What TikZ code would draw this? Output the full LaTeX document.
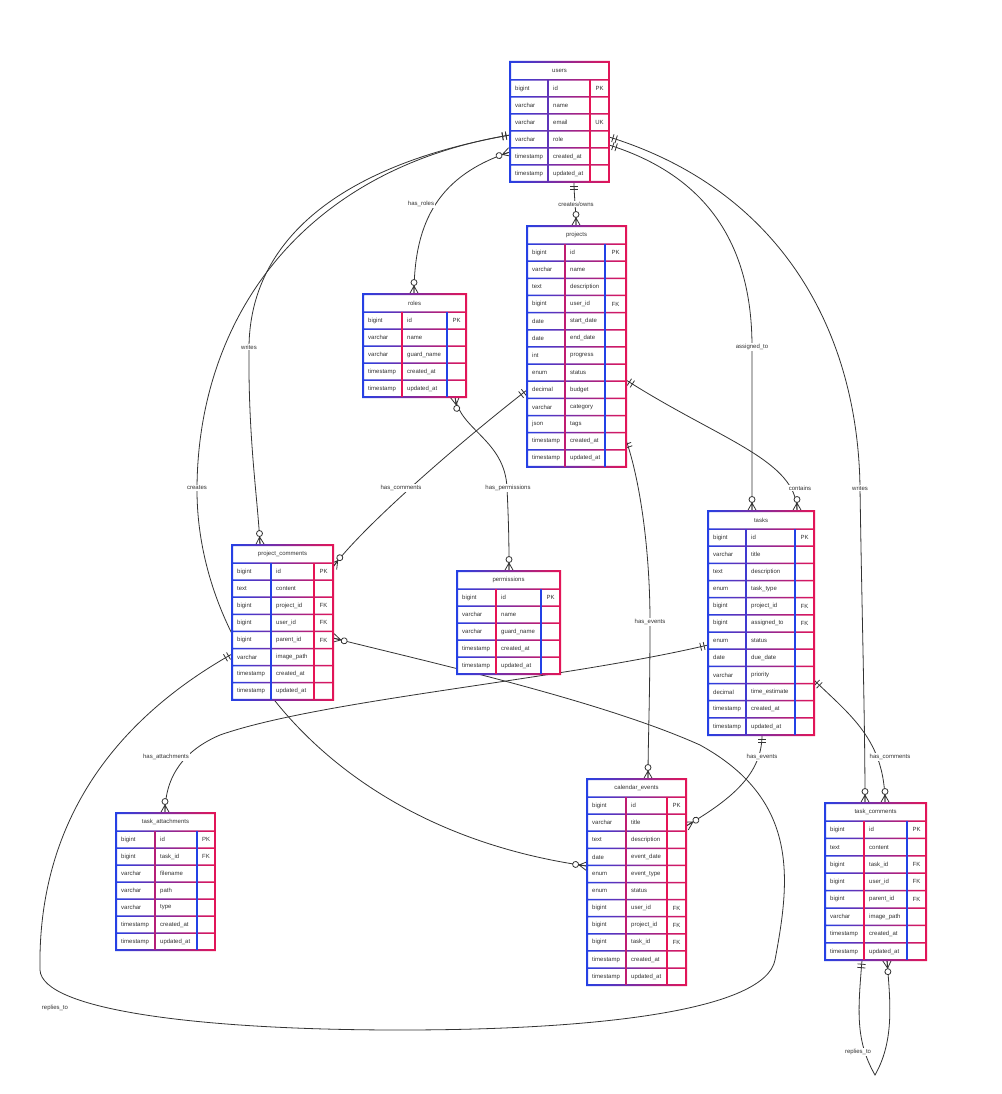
\documentclass[tikz,border=0pt]{standalone}
\usepackage{fontspec}
\setmainfont{Liberation Sans}
\usetikzlibrary{decorations.markings}
\pgfdeclarelayer{bg}
\pgfsetlayers{bg,main}
\definecolor{erBlue}{RGB}{35,65,230}
\definecolor{erRed}{RGB}{230,20,85}
\definecolor{lnC}{RGB}{51,51,51}
\tikzset{
  tblbox/.style={fill=white,draw=none,inner sep=0pt,outer sep=0pt},
  cell/.style={font=\fontsize{6}{7}\selectfont,text=black!80,inner sep=0pt},
  lbl/.style={font=\fontsize{6}{7}\selectfont,text=black!80,fill=white,inner sep=1pt},
  conn/.style={draw=lnC,line width=0.8pt},
  mk/.style={draw=lnC,line width=0.8pt},
  sOne/.style={postaction={decorate,decoration={markings,mark=at position 0 with {\draw[mk] (4pt,-4pt)--(4pt,4pt) (7.5pt,-4pt)--(7.5pt,4pt);}}}},
  eOne/.style={postaction={decorate,decoration={markings,mark=at position -0.01pt with {\draw[mk] (-4pt,-4pt)--(-4pt,4pt) (-7.5pt,-4pt)--(-7.5pt,4pt);}}}},
  sMany/.style={postaction={decorate,decoration={markings,mark=at position 0 with {\draw[mk] (0pt,4.5pt)--(8pt,0pt)--(0pt,-4.5pt) (0pt,0pt)--(8pt,0pt); \draw[mk,fill=white] (11.5pt,0pt) circle (3pt);}}}},
  eMany/.style={postaction={decorate,decoration={markings,mark=at position -0.01pt with {\draw[mk] (0pt,4.5pt)--(-8pt,0pt)--(0pt,-4.5pt) (0pt,0pt)--(-8pt,0pt); \draw[mk,fill=white] (-11.5pt,0pt) circle (3pt);}}}},
}
% #1 name #2 x0 #3 y0 #4 c1 #5 c2 #6 c3 #7 row height #8 title #9 rows
\newcommand\erT[9]{%
  \foreach \ta/\na/\ka [count=\ii] in {#9} {\xdef\erN{\ii}}%
  \pgfmathsetmacro\erW{#4+#5+#6}%
  \pgfmathsetmacro\erH{18+\erN*#7}%
  \node[tblbox,minimum width=\erW pt,minimum height=\erH pt,anchor=north west] (#1) at (#2,#3) {};
  \begin{scope}
    \clip (#2-1,#3-1) rectangle (#2+\erW+1,#3+1)
          (#2-1,#3+\erH-1) rectangle (#2+\erW+1,#3+\erH+1)
          (#2-1,#3-1) rectangle (#2+1,#3+\erH+1)
          (#2+\erW-1,#3-1) rectangle (#2+\erW+1,#3+\erH+1)
          foreach \jj in {0,...,\erN} { (#2,#3+18+\jj*#7-0.75) rectangle (#2+\erW,#3+18+\jj*#7+0.75) };
    \shade[left color=erBlue,right color=erRed] (#2-2,#3-2) rectangle (#2+\erW+2,#3+\erH+2);
  \end{scope}
  \draw[line width=1.4pt,draw=\erDa] (#2+#4,#3+18) -- (#2+#4,#3+\erH);
  \draw[line width=1.4pt,draw=\erDb] (#2+#4+#5,#3+18) -- (#2+#4+#5,#3+\erH);
  \node[cell] (#1-title) at (#2+\erW/2,#3+9) {#8};
  \foreach \ta/\na/\ka [count=\ii] in {#9} {
    \node[cell,anchor=west] (#1-t\ii) at (#2+5,#3+18+\ii*#7-0.5*#7) {\ta};
    \node[cell,anchor=west] (#1-n\ii) at (#2+#4+5,#3+18+\ii*#7-0.5*#7) {\na};
    \node[cell] (#1-k\ii) at (#2+#4+#5+#6/2,#3+18+\ii*#7-0.5*#7) {\ka};
  }%
}
\begin{document}
\begin{tikzpicture}[x=1pt,y=-1pt]
\useasboundingbox (0,0) rectangle (1001,1094);

% ---------- tables ----------
\def\erDa{erBlue!70!erRed}\def\erDb{erRed}
\erT{users}{510}{62}{38}{42}{19}{17}{users}{bigint/id/PK, varchar/name/{}, varchar/email/UK, varchar/role/{}, timestamp/created\_at/{}, timestamp/updated\_at/{}}

\def\erDa{erRed!80!erBlue}\def\erDb{erBlue}
\erT{projects}{527}{226}{38}{40}{21}{17.15}{projects}{bigint/id/PK, varchar/name/{}, text/description/{}, bigint/user\_id/FK, date/start\_date/{}, date/end\_date/{}, int/progress/{}, enum/status/{}, decimal/budget/{}, varchar/category/{}, json/tags/{}, timestamp/created\_at/{}, timestamp/updated\_at/{}}

\def\erDa{erRed}\def\erDb{erBlue}
\erT{roles}{363}{294}{39}{45}{19}{17}{roles}{bigint/id/PK, varchar/name/{}, varchar/guard\_name/{}, timestamp/created\_at/{}, timestamp/updated\_at/{}}

\def\erDa{erBlue}\def\erDb{erRed}
\erT{pc}{232}{545}{39}{43}{19}{17.1}{project\_comments}{bigint/id/PK, text/content/{}, bigint/project\_id/FK, bigint/user\_id/FK, bigint/parent\_id/FK, varchar/image\_path/{}, timestamp/created\_at/{}, timestamp/updated\_at/{}}

\def\erDa{erRed}\def\erDb{erBlue}
\erT{perm}{457}{571}{39}{45}{19}{17}{permissions}{bigint/id/PK, varchar/name/{}, varchar/guard\_name/{}, timestamp/created\_at/{}, timestamp/updated\_at/{}}

\def\erDa{erBlue!85!erRed}\def\erDb{erBlue}
\erT{tasks}{708}{511}{38}{49}{19}{17.17}{tasks}{bigint/id/PK, varchar/title/{}, text/description/{}, enum/task\_type/{}, bigint/project\_id/FK, bigint/assigned\_to/FK, enum/status/{}, date/due\_date/{}, varchar/priority/{}, decimal/time\_estimate/{}, timestamp/created\_at/{}, timestamp/updated\_at/{}}

\def\erDa{erRed!75!erBlue}\def\erDb{erBlue}
\erT{ta}{116}{813}{39}{42}{18}{17}{task\_attachments}{bigint/id/PK, bigint/task\_id/FK, varchar/filename/{}, varchar/path/{}, varchar/type/{}, timestamp/created\_at/{}, timestamp/updated\_at/{}}

\def\erDa{erRed!80!erBlue}\def\erDb{erRed}
\erT{ce}{587}{779}{39}{41}{19}{17.1}{calendar\_events}{bigint/id/PK, varchar/title/{}, text/description/{}, date/event\_date/{}, enum/event\_type/{}, enum/status/{}, bigint/user\_id/FK, bigint/project\_id/FK, bigint/task\_id/FK, timestamp/created\_at/{}, timestamp/updated\_at/{}}

\def\erDa{erRed}\def\erDb{erBlue}
\erT{tc}{825}{803}{39}{43}{19}{17.4}{task\_comments}{bigint/id/PK, text/content/{}, bigint/task\_id/FK, bigint/user\_id/FK, bigint/parent\_id/FK, varchar/image\_path/{}, timestamp/created\_at/{}, timestamp/updated\_at/{}}

% ---------- connector end points ----------
\coordinate (uS) at ([xshift=14.5pt]users.south);
\coordinate (uW1) at ([yshift=-13pt]users.west);
\coordinate (uW2) at ([yshift=-30pt]users.west);
\coordinate (uE1) at ([yshift=-15pt]users.east);
\coordinate (uE2) at ([yshift=-23pt]users.east);
\coordinate (pN) at ([xshift=-0.5pt]projects.north);
\coordinate (pW) at ([yshift=-43.5pt]projects.west);
\coordinate (pE1) at ([yshift=-33.5pt]projects.east);
\coordinate (pE2) at ([yshift=-93.5pt]projects.east);
\coordinate (rN) at ([xshift=-0.5pt]roles.north);
\coordinate (rS) at ([xshift=40.5pt]roles.south);
\coordinate (pcN) at ([xshift=-22.5pt]pc.north);
\coordinate (pcE1) at ([yshift=55.4pt]pc.east);
\coordinate (pcW) at ([yshift=-31.6pt]pc.west);
\coordinate (pcE2) at ([yshift=-15.6pt]pc.east);
\coordinate (permN) at ([xshift=0.5pt]perm.north);
\coordinate (tN1) at ([xshift=-9pt]tasks.north);
\coordinate (tN2) at ([xshift=36pt]tasks.north);
\coordinate (tW) at ([yshift=-22pt]tasks.west);
\coordinate (tS) at ([xshift=1pt]tasks.south);
\coordinate (tE) at ([yshift=-57pt]tasks.east);
\coordinate (taN) at ([xshift=-0.5pt]ta.north);
\coordinate (ceN) at ([xshift=11.5pt]ce.north);
\coordinate (ceW) at ([yshift=16pt]ce.west);
\coordinate (ceE) at ([yshift=56pt]ce.east);
\coordinate (tcN1) at ([xshift=-10.5pt]tc.north);
\coordinate (tcN2) at ([xshift=9.5pt]tc.north);
\coordinate (tcS1) at ([xshift=-13.5pt]tc.south);
\coordinate (tcS2) at ([xshift=11.5pt]tc.south);

% ---------- connectors ----------
\begin{pgfonlayer}{bg}
\fill[white] (0,0) rectangle (1001,1094);
\draw[conn,sOne,eMany] (uS) .. controls (574,196) and (576,210) .. (pN);
\draw[conn,sMany,eMany] (uW2) .. controls (440,175) and (414,220) .. (rN);
\draw[conn,sOne,eMany] (uW1) .. controls (340,165) and (250,240) .. (249,347) .. controls (248,440) and (258,500) .. (pcN);
\draw[conn,sOne,eMany] (uW1) .. controls (300,170) and (198,320) .. (197,488) .. controls (196,650) and (330,830) .. (ceW);
\draw[conn,sOne,eMany] (uE2) .. controls (720,180) and (752,260) .. (752,347) .. controls (752,420) and (752,470) .. (tN1);
\draw[conn,sOne,eMany] (uE1) .. controls (780,190) and (858,330) .. (860,488) .. controls (862,620) and (865,720) .. (tcN1);
\draw[conn,sOne,eMany] (pW) .. controls (450,450) and (360,530) .. (pcE1);
\draw[conn,sMany,eMany] (rS) .. controls (460,430) and (505,440) .. (507,488) .. controls (509,530) and (509,550) .. (permN);
\draw[conn,sOne,eMany] (pE1) .. controls (720,440) and (797,460) .. (tN2);
\draw[conn,sOne,eMany] (pE2) .. controls (640,480) and (650,550) .. (650,622) .. controls (650,700) and (648,740) .. (ceN);
\draw[conn,sOne,eMany] (tW) .. controls (560,680) and (320,700) .. (220,735) .. controls (185,750) and (165,775) .. (taN);
\draw[conn,sOne,eMany] (tS) .. controls (762,775) and (730,800) .. (ceE);
\draw[conn,sOne,eMany] (tE) .. controls (850,715) and (885,740) .. (tcN2);
\draw[conn,sOne,eMany] (pcW) .. controls (80,740) and (38,860) .. (40,970) .. controls (42,1010) and (200,1030) .. (400,1030) .. controls (600,1030) and (765,1010) .. (775,960) .. controls (790,880) and (800,800) .. (700,745) .. controls (600,700) and (420,660) .. (pcE2);
\draw[conn,sOne,eMany] (tcS1) .. controls (858,1010) and (855,1040) .. (875,1075) .. controls (895,1040) and (890,1000) .. (tcS2);
\end{pgfonlayer}

% ---------- relationship labels ----------
\node[lbl] (l1) at (576,204) {creates/owns};
\node[lbl] (l2) at (421,204) {has\_roles};
\node[lbl] (l3) at (249,347) {writes};
\node[lbl] (l4) at (752,347) {assigned\_to};
\node[lbl] (l5) at (197,488) {creates};
\node[lbl] (l6) at (401,488) {has\_comments};
\node[lbl] (l7) at (508,488) {has\_permissions};
\node[lbl] (l8) at (800,488) {contains};
\node[lbl] (l9) at (860,488) {writes};
\node[lbl] (l10) at (650,622) {has\_events};
\node[lbl] (l11) at (166,757) {has\_attachments};
\node[lbl] (l12) at (762,757) {has\_events};
\node[lbl] (l13) at (890,757) {has\_comments};
\node[lbl] (l14) at (55,1008) {replies\_to};
\node[lbl] (l15) at (858,1052) {replies\_to};
\end{tikzpicture}
\end{document}
